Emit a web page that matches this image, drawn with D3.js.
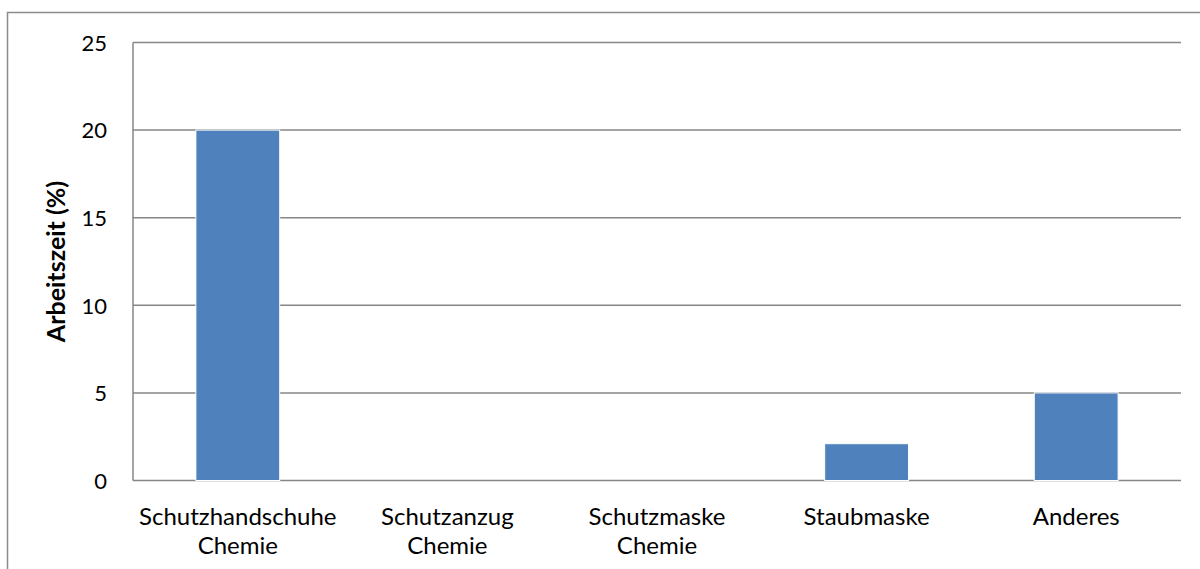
<!DOCTYPE html>
<html>
<head>
<meta charset="utf-8">
<script src="https://cdn.jsdelivr.net/npm/d3@7"></script>
<style>
  body { margin: 0; background: #fff; }
  svg text { font-family: Lato, "Open Sans", sans-serif; fill: #000; }
</style>
</head>
<body>
<div id="chart"></div>
<script>
// chart data
var categories = [["Schutzhandschuhe", "Chemie"], ["Schutzanzug", "Chemie"], ["Schutzmaske", "Chemie"], ["Staubmaske"], ["Anderes"]];
var values = [20, 0, 0, 2.1, 5];
var yTicks = [0, 5, 10, 15, 20, 25];
var yTitle = "Arbeitszeit (%)";

var width = 1200, height = 569;
var plot = {left: 133, right: 1181, top: 42.5, bottom: 480.5};

var svg = d3.select("#chart").append("svg")
  .attr("width", width)
  .attr("height", height);

// outer chart border
svg.append("rect")
  .attr("x", 7.5).attr("y", 12.5)
  .attr("width", 1200).attr("height", 600)
  .style("fill", "none").style("stroke", "#8c8c8c").style("stroke-width", 1.5);

var x = d3.scaleBand()
  .domain(d3.range(categories.length))
  .range([plot.left, plot.right])
  .paddingInner(0.6).paddingOuter(0.3);

var y = d3.scaleLinear().domain([0, 25]).range([plot.bottom, plot.top]);

// gridlines
svg.append("g").selectAll("line")
  .data(yTicks)
  .enter().append("line")
    .attr("x1", plot.left).attr("x2", plot.right)
    .attr("y1", d => y(d)).attr("y2", d => y(d))
    .style("stroke", "#868686").style("stroke-width", 1.5);

// y axis line
svg.append("line")
  .attr("x1", plot.left).attr("x2", plot.left)
  .attr("y1", plot.top).attr("y2", plot.bottom)
  .style("stroke", "#868686").style("stroke-width", 1.5);

// y tick labels
var yAxis = d3.axisLeft(y).tickValues(yTicks).tickSize(0).tickPadding(26);
var ya = svg.append("g").attr("transform", "translate(" + plot.left + ",0)").call(yAxis);
ya.select(".domain").remove();
ya.selectAll("text").style("font-size", "22px").style("font-family", "Lato, 'Open Sans', sans-serif").attr("dy", "0.35em");

// bars
svg.append("g").selectAll("rect")
  .data(values)
  .enter().append("rect")
    .attr("x", (d, i) => x(i))
    .attr("width", x.bandwidth())
    .attr("y", d => y(d))
    .attr("height", d => y(0) - y(d))
    .style("fill", "#4f81bd")
    .style("stroke", d => d > 0 ? "#fff" : "none")
    .style("stroke-width", 1);

// category labels, two lines where needed
var cat = svg.append("g").selectAll("text")
  .data(categories)
  .enter().append("text")
    .attr("text-anchor", "middle")
    .style("font-size", "24px");
cat.selectAll("tspan")
  .data((d, i) => d.map(s => ({s: s, i: i})))
  .enter().append("tspan")
    .attr("x", d => x(d.i) + x.bandwidth() / 2)
    .attr("y", (d, j) => 525 + j * 29)
    .text(d => d.s);

// y axis title
svg.append("text")
  .attr("transform", "translate(65," + ((plot.top + plot.bottom) / 2) + ") rotate(-90)")
  .attr("text-anchor", "middle")
  .style("font-size", "25px")
  .style("font-weight", "bold")
  .text(yTitle);
</script>
</body>
</html>
